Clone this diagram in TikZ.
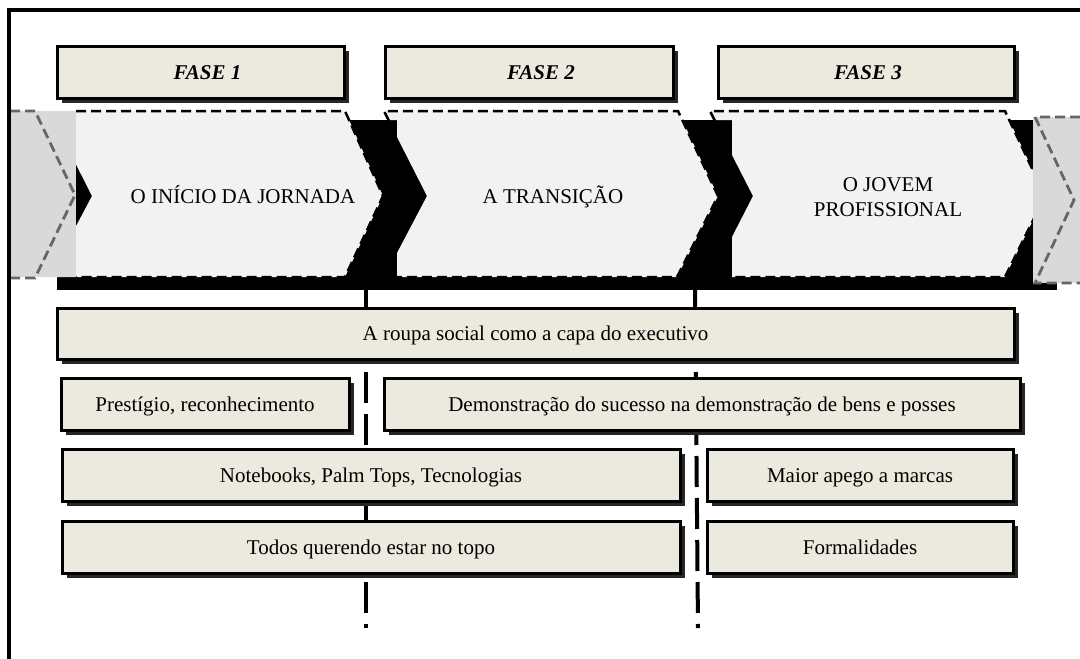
\documentclass[tikz,border=0pt]{standalone}
\usepackage{fontspec}
\setmainfont{Liberation Serif}
\usetikzlibrary{shadows}

\definecolor{beige}{HTML}{ECE9DE}
\definecolor{chevfill}{HTML}{F2F2F2}
\definecolor{sidefill}{HTML}{D9D9D9}
\definecolor{sideline}{HTML}{666666}
\definecolor{shade}{HTML}{262626}

\tikzset{
  txt/.style={font=\fontsize{21}{25}\selectfont, text height=14pt, text depth=0pt},
  panel/.style={txt, draw=black, line width=3pt, fill=beige, inner sep=0pt,
    general shadow={fill=shade, shadow xshift=5pt, shadow yshift=-5pt}},
  phasebox/.style={panel, font=\fontsize{21}{25}\selectfont\bfseries\itshape},
  chevedge/.style={draw=black, line width=2.5pt, dash pattern=on 10pt off 5pt},
  sideedge/.style={draw=sideline, line width=2.8pt, dash pattern=on 10pt off 5pt},
  divider/.style={draw=black, line width=4pt, dash pattern=on 31pt off 11pt},
  frameline/.style={draw=black, line width=3.5pt},
  chevtext/.style={txt, align=center, text=black, inner sep=0pt},
}

\begin{document}
\begin{tikzpicture}[x=1pt,y=-1pt]
\useasboundingbox (0,0) rectangle (1080,659);

% black shadow band behind the chevrons
\fill[black] (57,120) rectangle (1057,290);

% chevron 1
\fill[chevfill] (49,111) -- (345,111) -- (383,196) -- (345,277) -- (49,277) -- (92,196) -- cycle;
\draw[chevedge] (76,111) -- (345,111) -- (383,196) -- (345,277) -- (76,277);

% chevron 2
\fill[chevfill] (384,111) -- (678,111) -- (718,196) -- (677,277) -- (397,277) -- (397,253)
  -- (427,196) -- (397,137) -- (397,120) -- (388.5,120) -- cycle;
\draw[chevedge] (389,121) -- (384,111) -- (678,111) -- (718,196) -- (677,277) -- (397,277);

% chevron 3
\fill[chevfill] (710,111) -- (1005,111) -- (1045,196) -- (1005,277) -- (732,277) -- (732,237)
  -- (753,196) -- (732,155) -- (732,120) -- (714.5,120) -- cycle;
\draw[chevedge] (715,121) -- (710,111) -- (1005,111) -- (1045,196) -- (1005,277) -- (732,277);

% grey end pieces
\fill[sidefill] (10,111) rectangle (76,277);
\draw[sideedge] (10,111) -- (35,111) -- (75,195) -- (35,278) -- (10,278);
\fill[sidefill] (1033,117) rectangle (1080,283);
\draw[sideedge] (1080,117) -- (1035,117) -- (1074,200) -- (1035,283) -- (1080,283);

% chevron labels (the two-line label is placed by its last line)
\node[chevtext] (c1) at (243,196) {O INÍCIO DA JORNADA};
\node[chevtext] (c2) at (553,196) {A TRANSIÇÃO};
\node[chevtext] (c3) at (888,209) {O JOVEM\\PROFISSIONAL};

% phase dividers
\coordinate (d1a) at (366,288);
\coordinate (d1b) at (366,628);
\coordinate (d2a) at (695,288);
\coordinate (d2b) at (698,628);
\draw[divider] (d1a) -- (d1b);
\draw[divider] (d2a) -- (d2b);

% phase headers
\node[phasebox, minimum width=287pt, minimum height=52pt] (h1) at (200.5,72) {\hspace*{14pt}FASE 1};
\node[phasebox, minimum width=288pt, minimum height=52pt] (h2) at (529,72) {\hspace*{24pt}FASE 2};
\node[phasebox, minimum width=296pt, minimum height=52pt] (h3) at (866,72) {\hspace*{4pt}FASE 3};

% attribute boxes
\node[panel, minimum width=957pt, minimum height=51pt] (r1) at (535.5,333.5) {A roupa social como a capa do executivo};
\node[panel, minimum width=288pt, minimum height=52pt] (r2a) at (205,404) {Prestígio, reconhecimento};
\node[panel, minimum width=636pt, minimum height=52pt] (r2b) at (702,404) {Demonstração do sucesso na demonstração de bens e posses};
\node[panel, minimum width=618pt, minimum height=52pt] (r3a) at (371,475) {Notebooks, Palm Tops, Tecnologias};
\node[panel, minimum width=306pt, minimum height=52pt] (r3b) at (860,475) {Maior apego a marcas};
\node[panel, minimum width=618pt, minimum height=52pt] (r4a) at (371,547) {Todos querendo estar no topo};
\node[panel, minimum width=306pt, minimum height=52pt] (r4b) at (860,547) {Formalidades};

% outer frame (left and top edges)
\draw[frameline] (9,659) -- (9,10) -- (1080,10);
\end{tikzpicture}
\end{document}
